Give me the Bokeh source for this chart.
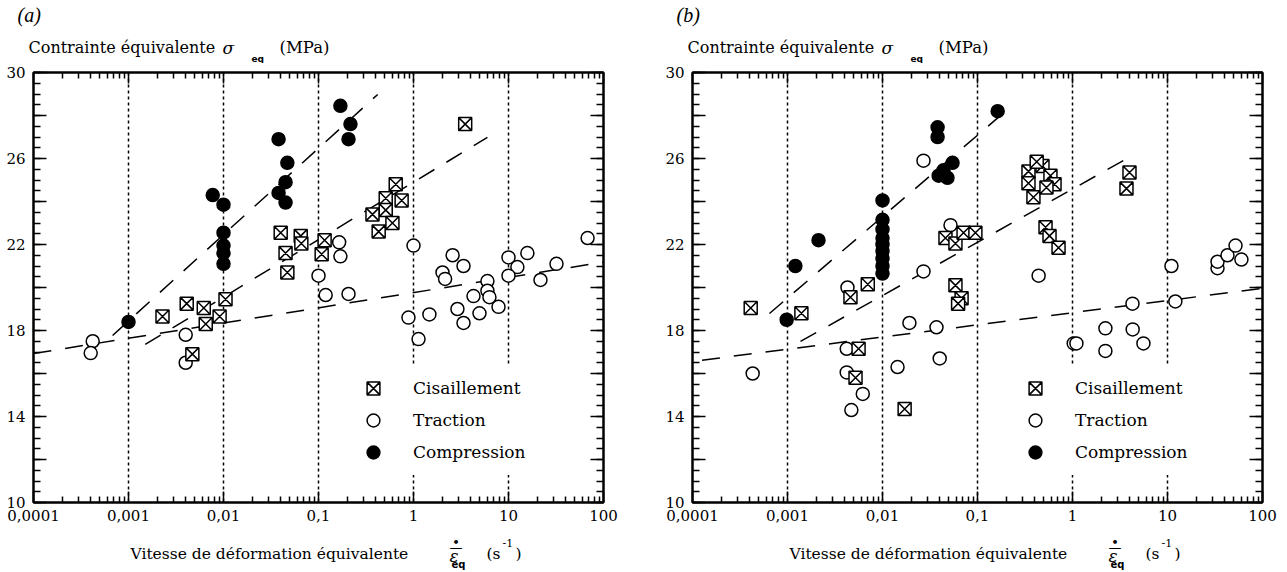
from bokeh.plotting import figure
from bokeh.layouts import row, column
from bokeh.models import (Range1d, LogAxis, LinearAxis, FixedTicker, CustomJSTickFormatter,
                          Span, Label, Legend, LegendItem)
from bokeh.embed import file_html
from bokeh.resources import INLINE

# ---------------- data : panel (a) ----------------
cis_a_rate = [0.00228, 0.0041, 0.0062, 0.0105, 0.0091, 0.0065, 0.0047, 0.040, 0.065, 0.066,
              0.045, 0.047, 0.116, 0.108, 0.65, 0.51, 0.75, 0.51, 0.37, 0.60, 0.43, 3.5]
cis_a_sig = [18.65, 19.25, 19.05, 19.45, 18.65, 18.3, 16.9, 22.55, 22.4, 22.05,
             21.6, 20.7, 22.2, 21.55, 24.8, 24.15, 24.05, 23.6, 23.4, 23.0, 22.6, 27.6]

tra_a_rate = [0.00042, 0.0004, 0.004, 0.004, 0.119, 0.1, 0.165, 0.17, 0.207, 1.0, 2.58, 3.36,
              2.02, 2.15, 6.0, 6.0, 4.28, 10, 12.4, 10, 15.8, 21.7, 32, 68, 0.885, 1.47, 1.13,
              2.9, 3.36, 4.95, 6.3, 7.85]
tra_a_sig = [17.5, 16.95, 17.8, 16.5, 19.65, 20.55, 22.1, 21.45, 19.7, 21.95, 21.5, 21.0,
             20.7, 20.4, 20.3, 19.85, 19.6, 21.4, 20.95, 20.55, 21.6, 20.35, 21.1, 22.3, 18.6,
             18.75, 17.6, 19.0, 18.35, 18.8, 19.55, 19.1]

cmp_a_rate = [0.001, 0.0077, 0.01, 0.01, 0.01, 0.01, 0.01, 0.038, 0.047, 0.045, 0.038, 0.045,
              0.17, 0.217, 0.207]
cmp_a_sig = [18.4, 24.3, 23.85, 22.55, 21.95, 21.6, 21.1, 26.9, 25.8, 24.9, 24.4, 23.95,
             28.45, 27.6, 26.9]

# dashed trend lines (end points)
fit_a_cmp_rate = [0.00068, 0.42]
fit_a_cmp_sig = [17.77, 28.98]
fit_a_cis_rate = [0.0015, 6.0]
fit_a_cis_sig = [17.35, 26.98]
fit_a_tra_rate = [0.0001, 100]
fit_a_tra_sig = [16.93, 21.18]

# ---------------- data : panel (b) ----------------
cis_b_rate = [0.00041, 0.0014, 0.0046, 0.007, 0.0056, 0.0052, 0.0171, 0.0586, 0.068, 0.0625,
              0.046, 0.0586, 0.0713, 0.095, 0.344, 0.344, 0.388, 0.483, 0.586, 0.647, 0.532,
              0.42, 3.98, 3.7, 0.52, 0.573, 0.713]
cis_b_sig = [19.05, 18.8, 19.55, 20.15, 17.15, 15.8, 14.35, 20.1, 19.5, 19.25,
             22.3, 22.05, 22.55, 22.55, 25.4, 24.85, 24.2, 25.65, 25.2, 24.8, 24.65,
             25.85, 25.35, 24.6, 22.8, 22.4, 21.85]

tra_b_rate = [0.027, 0.052, 0.027, 0.00428, 0.00043, 0.0042, 0.0042, 0.0062, 0.0047, 0.0144,
              0.0192, 0.037, 0.040, 0.44, 11.0, 33.6, 33.6, 42.8, 52, 60, 4.28, 12.1, 2.22,
              4.3, 5.58, 1.03, 1.1, 2.22]
tra_b_sig = [25.9, 22.9, 20.75, 20.0, 16.0, 17.15, 16.05, 15.05, 14.3, 16.3,
             18.35, 18.15, 16.7, 20.55, 21.0, 20.9, 21.2, 21.5, 21.95, 21.3, 19.25, 19.35, 18.1,
             18.05, 17.4, 17.4, 17.4, 17.05]

cmp_b_rate = [0.00098, 0.00121, 0.00212, 0.01, 0.01, 0.01, 0.01, 0.01, 0.01, 0.01, 0.01, 0.01,
              0.038, 0.038, 0.0546, 0.0438, 0.039, 0.0483, 0.163]
cmp_b_sig = [18.5, 21.0, 22.2, 24.05, 23.15, 22.7, 22.3, 22.0, 21.7, 21.35, 21.0, 20.65,
             27.45, 27.0, 25.8, 25.45, 25.2, 25.1, 28.2]

fit_b_cmp_rate = [0.000646, 0.207]
fit_b_cmp_sig = [18.79, 28.28]
fit_b_cis_rate = [0.00137, 4.08]
fit_b_cis_sig = [17.49, 26.09]
fit_b_tra_rate = [0.000126, 100]
fit_b_tra_sig = [16.62, 19.96]

# ---------------- ticks / labels ----------------
xtick_labels = ["0,0001", "0,001", "0,01", "0,1", "1", "10", "100"]
x_major = [1e-4, 1e-3, 1e-2, 1e-1, 1, 10, 100]
x_minor = [m * 10.0 ** e for e in range(-4, 2) for m in range(2, 10)]
y_major = list(range(10, 31, 2))
y_minor = [10 + 0.5 * i for i in range(41)]
dotted_at = [1e-3, 1e-2, 1e-1, 1, 10]
legend_labels = ["Cisaillement", "Traction", "Compression"]
panel_tags = ["(a)", "(b)"]
y_title = "Contrainte équivalente"
x_title = "Vitesse de déformation équivalente"

SERIF = "DejaVu Serif"
W_A, W_B = 640, 643
TOP_H = 63
MAIN_H = 9 + 430 + 30
BOT_H = 570 - TOP_H - MAIN_H
DX_B = 659   # horizontal shift of panel (b) texts


def style_axis(ax, major_in, minor_in):
    ax.major_tick_in = major_in
    ax.major_tick_out = 0
    ax.minor_tick_in = minor_in
    ax.minor_tick_out = 0
    ax.axis_line_width = 2
    ax.axis_line_color = "black"
    ax.major_tick_line_width = 1.5
    ax.minor_tick_line_width = 1.5
    ax.major_tick_line_color = "black"
    ax.minor_tick_line_color = "black"
    ax.major_label_text_font = SERIF
    ax.major_label_text_font_size = "15px"
    ax.major_label_text_color = "black"


def text_fig(width, height, y0):
    f = figure(width=width, height=height, x_range=Range1d(0, width),
               y_range=Range1d(y0 + height, y0), output_backend="svg", toolbar_location=None,
               min_border=0, x_axis_location=None, y_axis_location=None)
    f.grid.visible = False
    f.outline_line_color = None
    f.background_fill_color = "white"
    f.border_fill_color = "white"
    return f


def lab(p, text, x, y, size="16px", font=SERIF, style="normal", align="left"):
    p.add_layout(Label(x=x, y=y, text=text, text_font=font, text_font_size=size,
                       text_font_style=style, text_baseline="middle", text_align=align,
                       text_color="black"))


def make_panel(cis, tra, cmp_, fits, width, min_left, min_right, leg_x):
    p = figure(width=width, height=MAIN_H, x_axis_type="log",
               x_range=Range1d(1e-4, 100), y_range=Range1d(10, 30),
               output_backend="svg", toolbar_location=None,
               min_border_left=min_left, min_border_right=min_right,
               min_border_top=9, min_border_bottom=30)
    p.grid.visible = False
    p.outline_line_color = "black"
    p.outline_line_width = 2
    p.background_fill_color = "white"
    p.border_fill_color = "white"

    xfmt = CustomJSTickFormatter(args=dict(labels=xtick_labels),
                                 code="return labels[Math.round(Math.log10(tick)) + 4];")
    yfmt = CustomJSTickFormatter(code="const v = Math.round(tick); return (v % 4 == 0) ? '' : String(v);")

    bx = p.xaxis[0]
    bx.ticker = FixedTicker(ticks=x_major, minor_ticks=x_minor)
    bx.formatter = xfmt
    bx.major_label_standoff = 7
    style_axis(bx, 11, 6)
    ly = p.yaxis[0]
    ly.ticker = FixedTicker(ticks=y_major, minor_ticks=y_minor)
    ly.formatter = yfmt
    ly.major_label_standoff = 8
    style_axis(ly, 13, 7)

    tx = LogAxis(ticker=FixedTicker(ticks=x_major, minor_ticks=x_minor),
                 formatter=CustomJSTickFormatter(code="return '';"))
    style_axis(tx, 11, 6)
    tx.major_label_text_font_size = "0px"
    tx.major_label_standoff = 0
    p.add_layout(tx, "above")
    ry = LinearAxis(ticker=FixedTicker(ticks=y_major, minor_ticks=y_minor),
                    formatter=CustomJSTickFormatter(code="return '';"))
    style_axis(ry, 13, 7)
    ry.major_label_text_font_size = "0px"
    ry.major_label_standoff = 0
    p.add_layout(ry, "right")

    for v in dotted_at:
        p.add_layout(Span(location=v, dimension="height", line_color="black",
                          line_width=1.5, line_dash="3 3", level="underlay"))

    for fr, fs in fits:
        p.line(fr, fs, line_color="black", line_width=1.5, line_dash="18 14")

    r_tra = p.scatter(tra[0], tra[1], marker="circle", size=13, fill_color="white",
                      line_color="black", line_width=1.5)
    r_cis = p.scatter(cis[0], cis[1], marker="square_x", size=13, fill_color="white",
                      line_color="black", line_width=1.5)
    r_cmp = p.scatter(cmp_[0], cmp_[1], marker="circle", size=13, fill_color="black",
                      line_color="black", line_width=1.5)

    leg = Legend(items=[LegendItem(label=legend_labels[0], renderers=[r_cis]),
                        LegendItem(label=legend_labels[1], renderers=[r_tra]),
                        LegendItem(label=legend_labels[2], renderers=[r_cmp])],
                 location=(leg_x, 27), glyph_width=32, glyph_height=32, label_height=32,
                 spacing=0, padding=7, margin=0, label_standoff=24,
                 border_line_alpha=0, background_fill_color="white", background_fill_alpha=1,
                 label_text_font=SERIF, label_text_font_size="17px", label_text_color="black")
    p.add_layout(leg)
    return p


pa = make_panel((cis_a_rate, cis_a_sig), (tra_a_rate, tra_a_sig), (cmp_a_rate, cmp_a_sig),
                [(fit_a_cmp_rate, fit_a_cmp_sig), (fit_a_cis_rate, fit_a_cis_sig),
                 (fit_a_tra_rate, fit_a_tra_sig)],
                width=W_A, min_left=33, min_right=37, leg_x=317)
pb = make_panel((cis_b_rate, cis_b_sig), (tra_b_rate, tra_b_sig), (cmp_b_rate, cmp_b_sig),
                [(fit_b_cmp_rate, fit_b_cmp_sig), (fit_b_cis_rate, fit_b_cis_sig),
                 (fit_b_tra_rate, fit_b_tra_sig)],
                width=W_B, min_left=52, min_right=21, leg_x=320)

# texts above and below the two panels (page pixel coordinates)
top = text_fig(W_A + W_B, TOP_H, 0)
bot = text_fig(W_A + W_B, BOT_H, TOP_H + MAIN_H)
for i, dx in enumerate([0, DX_B]):
    lab(top, panel_tags[i], 17 + dx, 14, size="20px", font="Liberation Serif", style="italic")
    lab(top, y_title, 28 + dx, 47, size="16px")
    lab(top, "σ", 222 + dx, 47, size="17px", style="italic")
    lab(top, "eq", 251 + dx, 58, size="9px", font="DejaVu Sans", style="bold")
    lab(top, "(MPa)", 279 + dx, 47, size="16.5px")

    lab(bot, x_title, 130 + dx, 553, size="15.5px")
    lab(bot, "ε", 449 + dx, 555, size="17px", style="italic")
    lab(bot, "—", 449 + dx, 547, size="13px", font="DejaVu Sans")
    lab(bot, "•", 452 + dx, 542, size="11px", font="DejaVu Sans", style="bold")
    lab(bot, "eq", 451 + dx, 564, size="10px", font="DejaVu Sans", style="bold")
    lab(bot, "(s", 486 + dx, 553, size="15.5px")
    lab(bot, "-1", 502 + dx, 542, size="11px")
    lab(bot, ")", 515 + dx, 553, size="15.5px")

layout = column(top, row(pa, pb), bot)
open("out.html", "w").write(file_html(layout, INLINE))
